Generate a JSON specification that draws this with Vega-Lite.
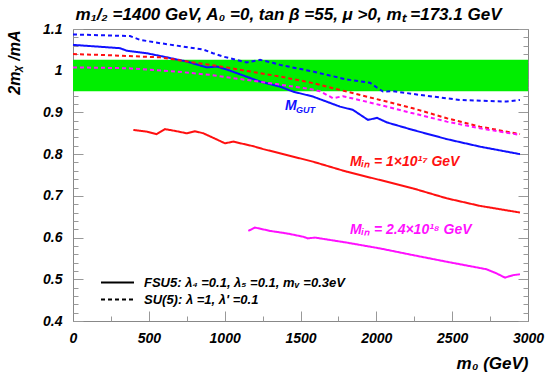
{
  "$schema": "https://vega.github.io/schema/vega-lite/v6.json",
  "width": 455,
  "height": 292,
  "autosize": {"type": "none"},
  "padding": {"left": 73, "top": 29, "right": 17, "bottom": 59},
  "background": "white",
  "config": {
    "view": {"stroke": null},
    "font": "Liberation Sans",
    "title": {"font": "Liberation Sans", "fontSize": 17, "fontStyle": "italic", "fontWeight": "bold", "anchor": "middle", "frame": "group", "dx": -12, "offset": -2, "color": "black"},
    "axis": {"grid": false, "domainColor": "#888888", "tickColor": "#999999", "labelFont": "Liberation Sans", "labelFontStyle": "italic", "labelFontWeight": "bold", "labelFontSize": 14, "labelColor": "black", "titleFont": "Liberation Sans", "titleFontStyle": "italic", "titleFontWeight": "bold", "titleColor": "black"}
  },
  "title": "m₁/₂ =1400 GeV, A₀ =0, tan β =55, μ >0, mₜ =173.1 GeV",
  "resolve": {"axis": {"x": "independent", "y": "independent"}},
  "layer": [
    {
      "data": {"values": [{"x0": 0, "x1": 3000, "y0": 0.951, "y1": 1.026}]},
      "mark": {"type": "rect", "color": "#00ee00"},
      "encoding": {
        "x": {"field": "x0", "type": "quantitative", "scale": {"domain": [0, 3000], "nice": false, "zero": false},
          "axis": {"orient": "bottom", "values": [0, 500, 1000, 1500, 2000, 2500, 3000], "format": "d", "tickSize": -10, "labelPadding": 20, "labelFlush": false, "title": "m₀  (GeV)", "titleFontSize": 17, "titleAnchor": "end", "titleAlign": "right", "titleBaseline": "alphabetic", "titleY": 47}},
        "x2": {"field": "x1"},
        "y": {"field": "y0", "type": "quantitative", "scale": {"domain": [0.4, 1.1], "nice": false, "zero": false},
          "axis": {"orient": "left", "values": [0.4, 0.5, 0.6, 0.7, 0.8, 0.9, 1.0, 1.1], "labelExpr": "'' + datum.value", "tickSize": -10, "labelPadding": 21, "labelFlush": false, "title": "2mᵪ /mA", "titleFontSize": 16, "titleAngle": 270, "titleAlign": "right", "titleBaseline": "middle", "titleX": -59, "titleY": 1}},
        "y2": {"field": "y1"}
      }
    },
    {
      "data": {"values": [
        {"model": "FSU5", "group": "GUT", "m0": 0, "ratio": 1.062},
        {"model": "FSU5", "group": "GUT", "m0": 310, "ratio": 1.054},
        {"model": "FSU5", "group": "GUT", "m0": 354, "ratio": 1.048},
        {"model": "FSU5", "group": "GUT", "m0": 486, "ratio": 1.042},
        {"model": "FSU5", "group": "GUT", "m0": 593, "ratio": 1.034},
        {"model": "FSU5", "group": "GUT", "m0": 750, "ratio": 1.022},
        {"model": "FSU5", "group": "GUT", "m0": 881, "ratio": 1.008},
        {"model": "FSU5", "group": "GUT", "m0": 947, "ratio": 1.010},
        {"model": "FSU5", "group": "GUT", "m0": 1013, "ratio": 1.003},
        {"model": "FSU5", "group": "GUT", "m0": 1233, "ratio": 0.974},
        {"model": "FSU5", "group": "GUT", "m0": 1365, "ratio": 0.962},
        {"model": "FSU5", "group": "GUT", "m0": 1450, "ratio": 0.950},
        {"model": "FSU5", "group": "GUT", "m0": 1582, "ratio": 0.938},
        {"model": "FSU5", "group": "GUT", "m0": 1760, "ratio": 0.914},
        {"model": "FSU5", "group": "GUT", "m0": 1846, "ratio": 0.906},
        {"model": "FSU5", "group": "GUT", "m0": 1945, "ratio": 0.882},
        {"model": "FSU5", "group": "GUT", "m0": 2004, "ratio": 0.887},
        {"model": "FSU5", "group": "GUT", "m0": 2070, "ratio": 0.876},
        {"model": "FSU5", "group": "GUT", "m0": 2241, "ratio": 0.858},
        {"model": "FSU5", "group": "GUT", "m0": 2465, "ratio": 0.836},
        {"model": "FSU5", "group": "GUT", "m0": 2683, "ratio": 0.818},
        {"model": "FSU5", "group": "GUT", "m0": 2947, "ratio": 0.800},
        {"model": "SU5", "group": "GUT", "m0": 0, "ratio": 1.087},
        {"model": "SU5", "group": "GUT", "m0": 376, "ratio": 1.083},
        {"model": "SU5", "group": "GUT", "m0": 442, "ratio": 1.074},
        {"model": "SU5", "group": "GUT", "m0": 574, "ratio": 1.066},
        {"model": "SU5", "group": "GUT", "m0": 857, "ratio": 1.051},
        {"model": "SU5", "group": "GUT", "m0": 923, "ratio": 1.042},
        {"model": "SU5", "group": "GUT", "m0": 989, "ratio": 1.034},
        {"model": "SU5", "group": "GUT", "m0": 1145, "ratio": 1.020},
        {"model": "SU5", "group": "GUT", "m0": 1233, "ratio": 1.026},
        {"model": "SU5", "group": "GUT", "m0": 1318, "ratio": 1.019},
        {"model": "SU5", "group": "GUT", "m0": 1365, "ratio": 1.014},
        {"model": "SU5", "group": "GUT", "m0": 1582, "ratio": 0.998},
        {"model": "SU5", "group": "GUT", "m0": 1804, "ratio": 0.979},
        {"model": "SU5", "group": "GUT", "m0": 1958, "ratio": 0.971},
        {"model": "SU5", "group": "GUT", "m0": 2044, "ratio": 0.950},
        {"model": "SU5", "group": "GUT", "m0": 2110, "ratio": 0.951},
        {"model": "SU5", "group": "GUT", "m0": 2287, "ratio": 0.942},
        {"model": "SU5", "group": "GUT", "m0": 2551, "ratio": 0.930},
        {"model": "SU5", "group": "GUT", "m0": 2859, "ratio": 0.926},
        {"model": "SU5", "group": "GUT", "m0": 2947, "ratio": 0.930},
        {"model": "SU5", "group": "1e17", "m0": 0, "ratio": 1.040},
        {"model": "SU5", "group": "1e17", "m0": 244, "ratio": 1.037},
        {"model": "SU5", "group": "1e17", "m0": 574, "ratio": 1.032},
        {"model": "SU5", "group": "1e17", "m0": 791, "ratio": 1.020},
        {"model": "SU5", "group": "1e17", "m0": 1013, "ratio": 1.008},
        {"model": "SU5", "group": "1e17", "m0": 1233, "ratio": 0.994},
        {"model": "SU5", "group": "1e17", "m0": 1365, "ratio": 0.986},
        {"model": "SU5", "group": "1e17", "m0": 1562, "ratio": 0.972},
        {"model": "SU5", "group": "1e17", "m0": 1804, "ratio": 0.950},
        {"model": "SU5", "group": "1e17", "m0": 2024, "ratio": 0.930},
        {"model": "SU5", "group": "1e17", "m0": 2241, "ratio": 0.910},
        {"model": "SU5", "group": "1e17", "m0": 2465, "ratio": 0.886},
        {"model": "SU5", "group": "1e17", "m0": 2683, "ratio": 0.866},
        {"model": "SU5", "group": "1e17", "m0": 2947, "ratio": 0.848},
        {"model": "SU5", "group": "2.4e18", "m0": 0, "ratio": 1.008},
        {"model": "SU5", "group": "2.4e18", "m0": 354, "ratio": 1.006},
        {"model": "SU5", "group": "2.4e18", "m0": 683, "ratio": 0.998},
        {"model": "SU5", "group": "2.4e18", "m0": 903, "ratio": 0.990},
        {"model": "SU5", "group": "2.4e18", "m0": 1121, "ratio": 0.979},
        {"model": "SU5", "group": "2.4e18", "m0": 1342, "ratio": 0.968},
        {"model": "SU5", "group": "2.4e18", "m0": 1562, "ratio": 0.956},
        {"model": "SU5", "group": "2.4e18", "m0": 1628, "ratio": 0.951},
        {"model": "SU5", "group": "2.4e18", "m0": 1714, "ratio": 0.934},
        {"model": "SU5", "group": "2.4e18", "m0": 1780, "ratio": 0.939},
        {"model": "SU5", "group": "2.4e18", "m0": 2024, "ratio": 0.918},
        {"model": "SU5", "group": "2.4e18", "m0": 2241, "ratio": 0.898},
        {"model": "SU5", "group": "2.4e18", "m0": 2465, "ratio": 0.878},
        {"model": "SU5", "group": "2.4e18", "m0": 2683, "ratio": 0.862},
        {"model": "SU5", "group": "2.4e18", "m0": 2947, "ratio": 0.846},
        {"model": "FSU5", "group": "1e17", "m0": 398, "ratio": 0.858},
        {"model": "FSU5", "group": "1e17", "m0": 486, "ratio": 0.854},
        {"model": "FSU5", "group": "1e17", "m0": 552, "ratio": 0.848},
        {"model": "FSU5", "group": "1e17", "m0": 606, "ratio": 0.860},
        {"model": "FSU5", "group": "1e17", "m0": 683, "ratio": 0.855},
        {"model": "FSU5", "group": "1e17", "m0": 750, "ratio": 0.850},
        {"model": "FSU5", "group": "1e17", "m0": 804, "ratio": 0.855},
        {"model": "FSU5", "group": "1e17", "m0": 859, "ratio": 0.850},
        {"model": "FSU5", "group": "1e17", "m0": 925, "ratio": 0.839},
        {"model": "FSU5", "group": "1e17", "m0": 1002, "ratio": 0.826},
        {"model": "FSU5", "group": "1e17", "m0": 1057, "ratio": 0.830},
        {"model": "FSU5", "group": "1e17", "m0": 1189, "ratio": 0.819},
        {"model": "FSU5", "group": "1e17", "m0": 1255, "ratio": 0.812},
        {"model": "FSU5", "group": "1e17", "m0": 1409, "ratio": 0.798},
        {"model": "FSU5", "group": "1e17", "m0": 1582, "ratio": 0.782},
        {"model": "FSU5", "group": "1e17", "m0": 1804, "ratio": 0.758},
        {"model": "FSU5", "group": "1e17", "m0": 2024, "ratio": 0.738},
        {"model": "FSU5", "group": "1e17", "m0": 2241, "ratio": 0.718},
        {"model": "FSU5", "group": "1e17", "m0": 2465, "ratio": 0.694},
        {"model": "FSU5", "group": "1e17", "m0": 2683, "ratio": 0.676},
        {"model": "FSU5", "group": "1e17", "m0": 2947, "ratio": 0.660},
        {"model": "FSU5", "group": "2.4e18", "m0": 1156, "ratio": 0.616},
        {"model": "FSU5", "group": "2.4e18", "m0": 1200, "ratio": 0.624},
        {"model": "FSU5", "group": "2.4e18", "m0": 1299, "ratio": 0.616},
        {"model": "FSU5", "group": "2.4e18", "m0": 1409, "ratio": 0.610},
        {"model": "FSU5", "group": "2.4e18", "m0": 1518, "ratio": 0.602},
        {"model": "FSU5", "group": "2.4e18", "m0": 1549, "ratio": 0.598},
        {"model": "FSU5", "group": "2.4e18", "m0": 1595, "ratio": 0.600},
        {"model": "FSU5", "group": "2.4e18", "m0": 1804, "ratio": 0.588},
        {"model": "FSU5", "group": "2.4e18", "m0": 2024, "ratio": 0.574},
        {"model": "FSU5", "group": "2.4e18", "m0": 2241, "ratio": 0.558},
        {"model": "FSU5", "group": "2.4e18", "m0": 2465, "ratio": 0.542},
        {"model": "FSU5", "group": "2.4e18", "m0": 2727, "ratio": 0.524},
        {"model": "FSU5", "group": "2.4e18", "m0": 2793, "ratio": 0.514},
        {"model": "FSU5", "group": "2.4e18", "m0": 2848, "ratio": 0.504},
        {"model": "FSU5", "group": "2.4e18", "m0": 2903, "ratio": 0.510},
        {"model": "FSU5", "group": "2.4e18", "m0": 2947, "ratio": 0.512}
      ]},
      "mark": {"type": "line", "strokeWidth": 2},
      "encoding": {
        "x": {"field": "m0", "type": "quantitative",
          "axis": {"orient": "bottom", "values": [250, 750, 1250, 1750, 2250, 2750], "tickSize": -5, "labels": false, "domain": false, "title": null}},
        "y": {"field": "ratio", "type": "quantitative",
          "axis": {"orient": "left", "values": [0.42, 0.44, 0.46, 0.48, 0.52, 0.54, 0.56, 0.58, 0.62, 0.64, 0.66, 0.68, 0.72, 0.74, 0.76, 0.78, 0.82, 0.84, 0.86, 0.88, 0.92, 0.94, 0.96, 0.98, 1.02, 1.04, 1.06, 1.08], "tickSize": -5, "labels": false, "domain": false, "title": null}},
        "color": {"field": "group", "type": "nominal", "scale": {"domain": ["GUT", "1e17", "2.4e18"], "range": ["#1010ff", "#ff1010", "#ff10ff"]}, "legend": null},
        "strokeDash": {"field": "model", "type": "nominal", "scale": {"domain": ["FSU5", "SU5"], "range": [[1, 0], [4, 3]]},
          "legend": {"title": null, "orient": "none", "legendX": 35, "legendY": 244, "padding": 0, "symbolType": "M-2,0H2", "symbolSize": 272, "symbolStrokeWidth": 2, "symbolStrokeColor": "black", "symbolFillColor": "transparent", "labelFont": "Liberation Sans", "labelFontStyle": "italic", "labelFontWeight": "bold", "labelFontSize": 13, "labelColor": "black", "labelOffset": 17, "rowPadding": 0, "labelLimit": 400,
            "labelExpr": "datum.value == 'FSU5' ? 'FSU5: λ₄ =0.1, λ₅ =0.1, mᵥ =0.3eV' : \"SU(5): λ =1, λ' =0.1\""}}
      }
    },
    {
      "data": {"values": [
        {"label": "M", "group": "GUT", "m0": 1398, "ratio": 0.906},
        {"label": "Mᵢₙ = 1×10¹⁷ GeV", "group": "1e17", "m0": 1826, "ratio": 0.771},
        {"label": "Mᵢₙ = 2.4×10¹⁸ GeV", "group": "2.4e18", "m0": 1826, "ratio": 0.608}
      ]},
      "mark": {"type": "text", "align": "left", "baseline": "alphabetic", "fontSize": 14, "fontStyle": "italic", "fontWeight": "bold", "font": "Liberation Sans"},
      "encoding": {
        "x": {"field": "m0", "type": "quantitative",
          "axis": {"orient": "top", "ticks": false, "labels": false, "domain": true, "title": null}},
        "y": {"field": "ratio", "type": "quantitative",
          "axis": {"orient": "right", "values": [0.4, 0.5, 0.6, 0.7, 0.8, 0.9, 1.0, 1.1], "tickSize": -10, "labels": false, "domain": true, "title": null}},
        "text": {"field": "label"},
        "color": {"field": "group", "type": "nominal", "legend": null}
      }
    },
    {
      "data": {"values": [
        {"label": "GUT", "group": "GUT", "m0": 1398, "ratio": 0.906}
      ]},
      "mark": {"type": "text", "align": "left", "baseline": "alphabetic", "fontSize": 9, "dx": 11, "dy": 3, "fontStyle": "italic", "fontWeight": "bold", "font": "Liberation Sans"},
      "encoding": {
        "x": {"field": "m0", "type": "quantitative", "axis": null},
        "y": {"field": "ratio", "type": "quantitative",
          "axis": {"orient": "right", "values": [0.42, 0.44, 0.46, 0.48, 0.52, 0.54, 0.56, 0.58, 0.62, 0.64, 0.66, 0.68, 0.72, 0.74, 0.76, 0.78, 0.82, 0.84, 0.86, 0.88, 0.92, 0.94, 0.96, 0.98, 1.02, 1.04, 1.06, 1.08], "tickSize": -5, "labels": false, "domain": false, "title": null}},
        "text": {"field": "label"},
        "color": {"field": "group", "type": "nominal", "legend": null}
      }
    }
  ]
}
